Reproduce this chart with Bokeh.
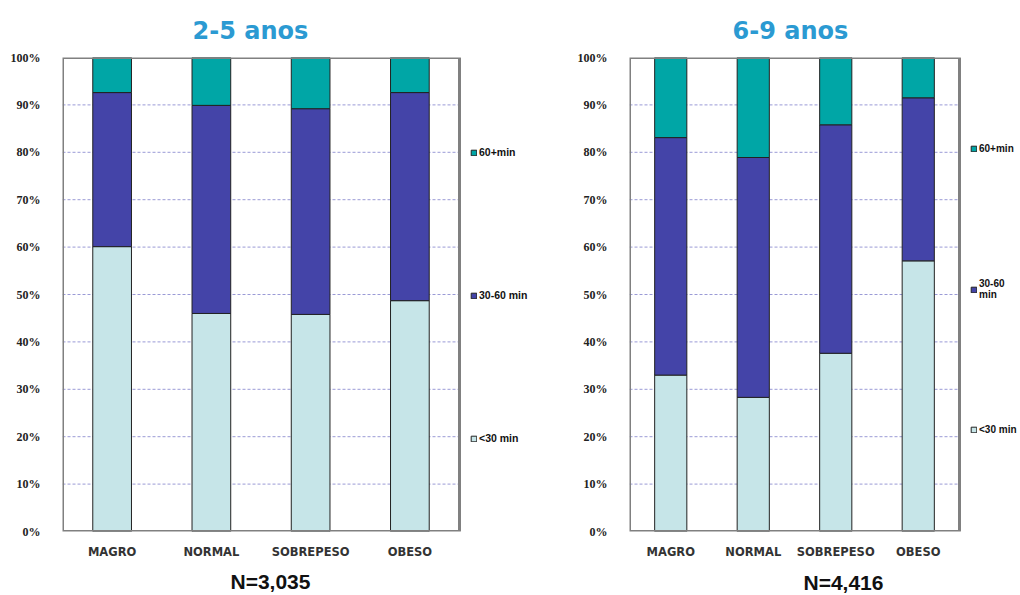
from bokeh.plotting import figure
from bokeh.layouts import row
from bokeh.models import (FixedTicker, PrintfTickFormatter, Legend,
                          LegendItem, LinearAxis, Range1d)
from bokeh.embed import file_html
from bokeh.resources import INLINE

categories = ["MAGRO", "NORMAL", "SOBREPESO", "OBESO"]
colors = ["#C6E5E8", "#4444A8", "#00A6A6"]
y_ticks = [0, 10, 20, 30, 40, 50, 60, 70, 80, 90, 100]

# 2-5 anos
lt30_a = [60.1, 46.0, 45.8, 48.7]
m3060_a = [32.5, 43.9, 43.4, 43.9]
gt60_a = [7.4, 10.1, 10.8, 7.4]
# 6-9 anos
lt30_b = [33.0, 28.3, 37.6, 57.1]
m3060_b = [50.1, 50.6, 48.2, 34.4]
gt60_b = [16.9, 21.1, 14.2, 8.5]

titles = ["2-5 anos", "6-9 anos"]
n_labels = ["N=3,035", "N=4,416"]
legend_a = ["<30 min", "30-60 min", "60+min"]
legend_b = ["<30 min", "30-60\nmin", "60+min"]


def make_chart(lt30, m3060, gt60, title, nlab, bl, box_w, extra_w, title_off,
               n_frac, n_standoff, legend_labels, leg_y, leg_spacing, leg_font):
    fh = 474
    fw = box_w + extra_w
    ncat = len(categories)
    xs = [i + 0.5 for i in range(ncat)]
    x_end = ncat * fw / box_w
    p = figure(x_range=Range1d(0, x_end), y_range=(0, 100),
               width=bl + fw, height=595, output_backend="svg",
               toolbar_location=None, min_border_left=bl, min_border_right=0,
               min_border_top=57, min_border_bottom=595 - 57 - fh,
               frame_width=fw, frame_height=fh)
    p.outline_line_color = None
    p.background_fill_color = "white"
    p.border_fill_color = "white"
    p.xgrid.grid_line_color = None
    p.ygrid.grid_line_color = None

    # dashed gridlines limited to the plot box
    inner = y_ticks[1:-1]
    p.segment(x0=[0] * len(inner), x1=[ncat] * len(inner), y0=inner, y1=inner,
              line_color="#9A9AD6", line_width=1, line_dash="3 2")

    data = dict(x=xs, s0=lt30, s1=m3060, s2=gt60)
    rs = p.vbar_stack(["s0", "s1", "s2"], x="x", width=0.39, source=data,
                      fill_color=colors, line_color="#222222", line_width=1)

    # plot box
    p.quad(left=[0], right=[ncat], bottom=[0], top=[100], fill_color=None,
           line_color="#808080", line_width=3)

    p.yaxis.ticker = FixedTicker(ticks=y_ticks)
    p.yaxis.formatter = PrintfTickFormatter(format="%d%%")
    p.xaxis.ticker = FixedTicker(ticks=xs)
    p.xaxis.major_label_overrides = {x: c for x, c in zip(xs, categories)}
    for ax in (p.xaxis[0], p.yaxis[0]):
        ax.axis_line_color = None
        ax.major_tick_line_color = None
        ax.minor_tick_line_color = None
        ax.major_tick_out = 0
        ax.major_tick_in = 0
        ax.minor_tick_out = 0
    p.yaxis.major_label_text_font = "Liberation Serif"
    p.yaxis.major_label_text_font_style = "bold"
    p.yaxis.major_label_text_font_size = "12px"
    p.yaxis.major_label_standoff = 22
    p.yaxis.major_label_text_color = "#222222"
    p.xaxis.major_label_text_font = "DejaVu Sans"
    p.xaxis.major_label_text_font_style = "bold"
    p.xaxis.major_label_text_font_size = "11.5px"
    p.xaxis.major_label_standoff = 13
    p.xaxis.major_label_text_color = "#333333"

    # title
    p.title.text = title
    p.title.align = "left"
    p.title.offset = title_off
    p.title.text_font = "DejaVu Sans"
    p.title.text_font_style = "bold"
    p.title.text_font_size = "24px"
    p.title.text_color = "#2B9AD2"
    p.title.standoff = 26

    # N label as a label-only axis below
    n_pos = n_frac * ncat
    nax = LinearAxis(ticker=FixedTicker(ticks=[n_pos]),
                     major_label_overrides={n_pos: nlab})
    nax.axis_line_color = None
    nax.major_tick_line_color = None
    nax.minor_tick_line_color = None
    nax.major_tick_out = 0
    nax.major_tick_in = 0
    nax.minor_tick_out = 0
    nax.major_label_standoff = n_standoff
    nax.major_label_text_font = "Liberation Sans"
    nax.major_label_text_font_style = "bold"
    nax.major_label_text_font_size = "21px"
    nax.major_label_text_color = "#111111"
    p.add_layout(nax, "below")

    # legend inside the (extended) frame, to the right of the plot box
    items = [LegendItem(label=lab, renderers=[r])
             for r, lab in zip(rs[::-1], legend_labels[::-1])]
    lg = Legend(items=items, location=(box_w + 11, leg_y), padding=0, margin=0,
                spacing=leg_spacing, border_line_color=None,
                background_fill_alpha=0, glyph_width=7, glyph_height=7,
                label_standoff=2, label_text_font="Liberation Sans",
                label_text_font_style="bold", label_text_font_size=leg_font,
                label_height=10, label_text_color="#111111")
    p.add_layout(lg)
    return p


pa = make_chart(lt30_a, m3060_a, gt60_a, titles[0], n_labels[0], 62, 397, 101,
                130, 208 / 397, 8, legend_a, 87, 131, "10.5px")
pb = make_chart(lt30_b, m3060_b, gt60_b, titles[1], n_labels[1], 69, 330, 61,
                103, 214 / 330, 9, legend_b, 96, 124, "10px")

layout = row(pa, pb, spacing=0)
open("out.html", "w").write(file_html(layout, INLINE))
